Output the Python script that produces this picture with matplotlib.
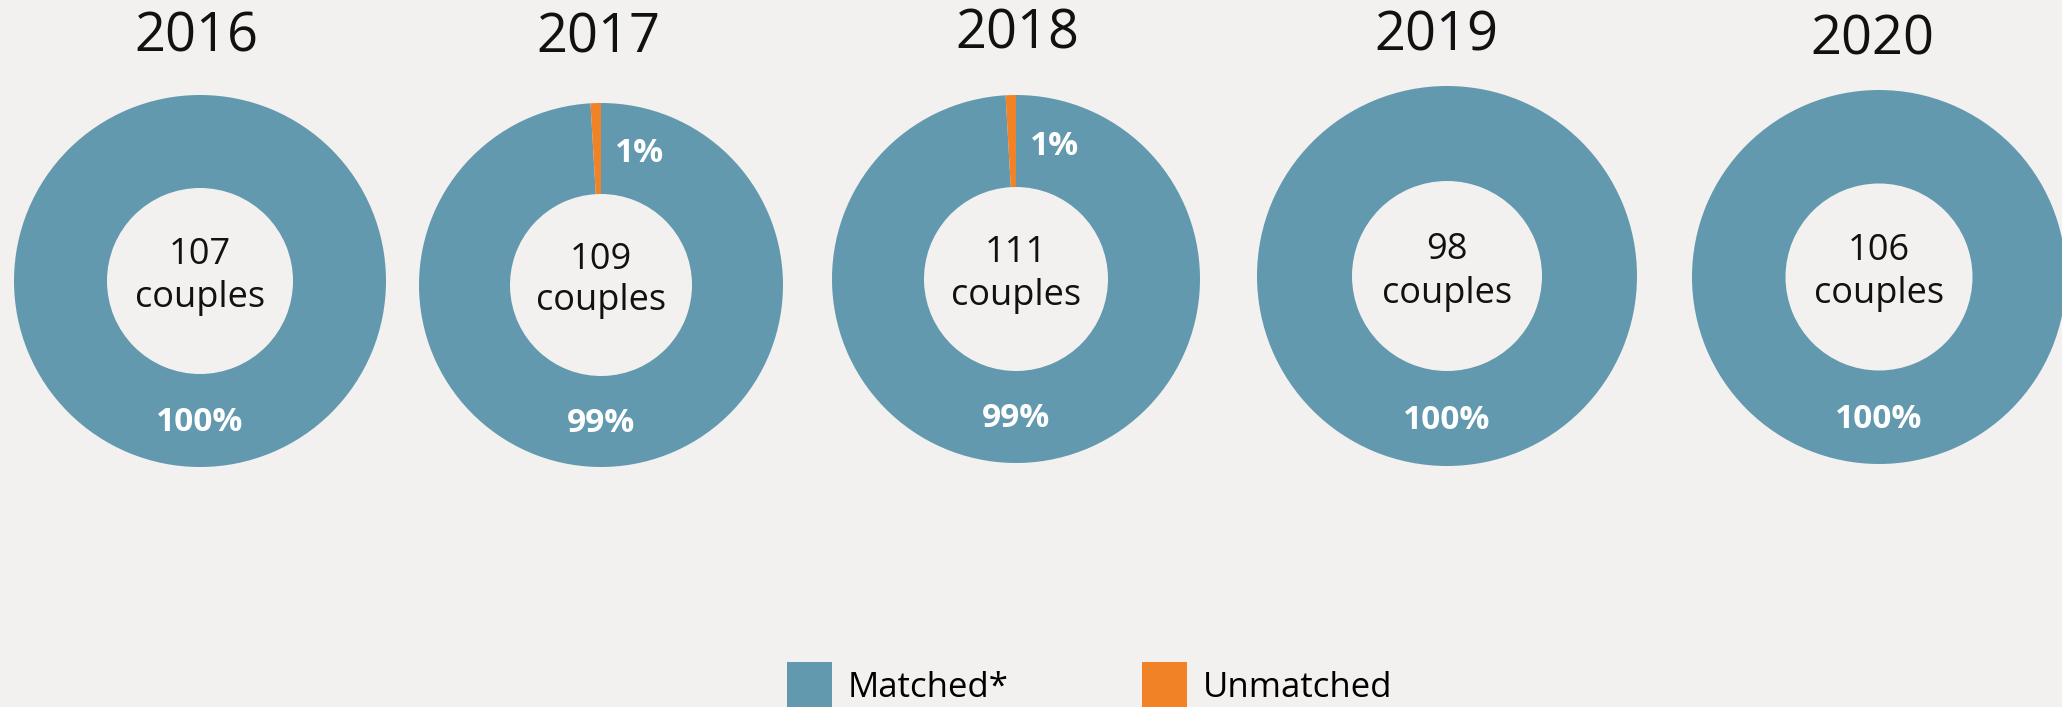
import matplotlib.pyplot as plt
from matplotlib.patches import Patch

'''Five donuts: matched vs unmatched couples per year.'''

years = ["2016", "2017", "2018", "2019", "2020"]
couples = [107, 109, 111, 98, 106]
matched = [107, 108, 110, 98, 106]
unmatched = [0, 1, 1, 0, 0]
matched_pct = ["100%", "99%", "99%", "100%", "100%"]
unmatched_pct = ["", "1%", "1%", "", ""]

# layout in pixels (y measured from top of the picture)
centers = [(200, 281), (601, 285), (1016, 279), (1447, 276), (1879, 277)]
radii = [186, 182, 184, 190, 187]
title_pos = [(196, 37), (598, 38), (1017, 34), (1436, 36), (1872, 40)]

BLUE = "#6399af"
ORANGE = "#f28226"
BG = "#f2f1ef"
W, H = 2062, 707

plt.rcParams['font.family'] = ['Open Sans', 'DejaVu Sans']

fig = plt.figure(figsize=(W / 100, H / 100), dpi=100, facecolor=BG)
ax = fig.add_axes([0, 0, 1, 1])
ax.set_facecolor(BG)

for i in range(len(years)):
    cx, cy = centers[i]
    cy = H - cy
    r = radii[i]
    ax.pie([matched[i], unmatched[i]], colors=[BLUE, ORANGE],
           startangle=90, counterclock=False, center=(cx, cy), radius=r,
           frame=True, wedgeprops=dict(width=r * 0.5, linewidth=0))

    # year above each donut
    tx, ty = title_pos[i]
    ax.text(tx, H - ty, years[i], ha="center", va="center", fontsize=39, color="#111111")

    # count in the hole
    ax.text(cx, cy + 0.09 * r, str(couples[i]), ha="center", va="baseline",
            fontsize=26, color="#111111")
    ax.text(cx, cy - 0.14 * r, "couples", ha="center", va="baseline",
            fontsize=26, color="#111111")

    # percentage labels
    ax.text(cx, cy - 0.76 * r, matched_pct[i], ha="center", va="center",
            fontsize=24, fontweight="bold", color="white")
    if unmatched_pct[i]:
        ax.text(cx + 0.21 * r, cy + 0.72 * r, unmatched_pct[i], ha="center", va="center",
                fontsize=24, fontweight="bold", color="white")

ax.set_xlim(0, W)
ax.set_ylim(0, H)
ax.set_aspect("equal")
ax.axis("off")

# legend squares run off the bottom edge like in the original
handles = [Patch(facecolor=BLUE, edgecolor="none", label="Matched*"),
           Patch(facecolor=ORANGE, edgecolor="none", label="Unmatched")]
fig.legend(handles=handles, loc="lower left", bbox_to_anchor=(787 / W, -0.0052),
           ncol=2, frameon=False, fontsize=25, handlelength=1.3, handleheight=1.79,
           handletextpad=0.45, columnspacing=3.85, borderpad=0, borderaxespad=0)

fig.savefig("out.png", dpi=100, facecolor=BG)
